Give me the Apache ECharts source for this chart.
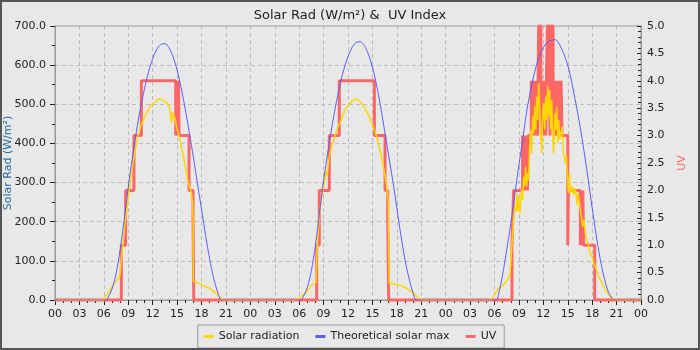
<!DOCTYPE html>
<html>
<head>
<meta charset="utf-8">
<script src="https://cdn.jsdelivr.net/npm/echarts@6/dist/echarts.min.js"></script>
<style>
  html, body { margin: 0; padding: 0; background: #e8e8e8; }
  #wrap { position: relative; width: 700px; height: 350px; }
  #chart { width: 700px; height: 350px; }
  #frame { position: absolute; left: 0; top: 0; width: 700px; height: 350px;
           box-sizing: border-box; border: 2px solid #555; pointer-events: none; }
</style>
</head>
<body>
<div id="wrap"><div id="chart"></div><div id="frame"></div></div>
<script>
// Hour-of-day tick labels along the time axis (every 3 hours)
const hourLabels = ['00', '03', '06', '09', '12', '15', '18', '21'];

// Solar radiation (W/m²) readings, [hour of day, value], one array per day
const solarDay1 = [[0,0],[5.9,0],[6.5,17],[7.3,43],[7.95,60],[8.14,62],[8.27,128],[8.55,187],[8.96,256],[9.38,320],[9.78,375],[10.19,418],[10.61,448],[11.22,477],[11.84,499],[12.2,505],[12.46,507],[12.7,514],[12.86,516],[13.05,512],[13.27,513],[13.5,508],[13.76,503],[14.09,490],[14.2,470],[14.3,452],[14.4,480],[14.55,462],[14.71,469],[14.9,445],[15.11,430],[15.53,392],[15.94,350],[16.34,303],[16.76,273],[16.9,250],[16.96,210],[17.0,47],[17.78,42],[18.4,35],[19.0,30],[19.6,20],[20.25,8],[20.6,0],[24,0]];
const solarDay2 = [[0,0],[5.69,0],[6.92,21],[7.53,38],[8.06,43],[8.22,136],[8.47,213],[8.76,264],[9.17,307],[9.3,330],[9.45,318],[9.58,350],[9.99,392],[10.4,418],[10.7,440],[11.02,452],[11.63,486],[12.25,503],[12.6,510],[12.86,513],[13.05,508],[13.27,511],[13.68,503],[14.3,482],[14.92,452],[15.53,418],[16.02,375],[16.43,332],[16.76,290],[16.96,247],[17.05,43],[18.4,38],[19.22,30],[20.04,17],[20.65,5],[21.07,0],[24,0]];
const solarDay3 = [[0,0],[5.6,0],[5.85,8],[6.46,30],[7.08,38],[7.69,55],[7.9,64],[8.1,68],[8.35,205],[8.47,239],[8.64,225],[8.76,273],[8.88,226],[8.97,264],[9.13,222],[9.3,281],[9.46,256],[9.58,315],[9.7,290],[9.83,341],[9.95,290],[10.07,324],[10.2,307],[10.32,392],[10.44,435],[10.57,375],[10.69,469],[10.81,426],[10.94,494],[11.06,435],[11.18,520],[11.31,460],[11.43,554],[11.55,494],[11.68,418],[11.8,375],[11.92,477],[12.04,503],[12.17,435],[12.29,520],[12.41,460],[12.54,546],[12.66,469],[12.78,537],[12.91,435],[13.03,511],[13.15,418],[13.28,375],[13.4,477],[13.52,435],[13.65,494],[13.77,401],[13.89,460],[14.01,409],[14.09,418],[14.3,443],[14.5,375],[14.71,350],[14.83,370],[14.95,315],[15.08,273],[15.2,324],[15.32,273],[15.53,290],[15.73,269],[15.94,285],[16.14,243],[16.27,273],[16.43,273],[16.55,230],[16.68,213],[16.84,187],[17.0,205],[17.17,170],[17.37,153],[17.58,136],[17.78,119],[17.99,111],[18.19,94],[18.4,85],[18.6,72],[18.81,60],[19.02,55],[19.22,43],[19.43,34],[19.63,26],[20.04,13],[20.45,4],[20.86,0],[24,0]];

// Theoretical clear-sky maximum (W/m²), [hour of day, value]
const maxDay1 = [[0,0],[6.3,0],[6.5,5],[7.0,28],[7.5,66],[8.0,128],[8.5,205],[9.0,288],[9.5,362],[10.0,430],[10.5,490],[11.0,540],[11.5,583],[12.0,617],[12.5,640],[13.0,653],[13.5,655],[14.0,645],[14.5,622],[15.0,588],[15.5,542],[16.0,488],[16.5,428],[17.0,365],[17.5,298],[18.0,232],[18.5,165],[19.0,105],[19.5,55],[20.0,20],[20.5,0],[24,0]];
const maxDay2 = [[0,0],[6.2,0],[6.5,8],[7.0,32],[7.5,75],[8.0,140],[8.5,222],[9.0,305],[9.5,375],[10.0,440],[10.5,498],[11.0,548],[11.5,590],[12.0,622],[12.5,645],[13.0,658],[13.5,660],[14.0,650],[14.5,628],[15.0,595],[15.5,550],[16.0,495],[16.5,432],[17.0,368],[17.5,305],[18.0,235],[18.5,165],[19.0,103],[19.5,55],[20.0,18],[20.4,0],[24,0]];
const maxDay3 = [[0,0],[6.2,0],[6.5,15],[7.0,65],[7.5,128],[8.0,195],[8.5,270],[9.0,345],[9.5,415],[10.0,487],[10.5,542],[11.0,588],[11.5,622],[12.0,645],[12.5,658],[13.0,664],[13.5,665],[14.0,652],[14.5,630],[15.0,600],[15.5,555],[16.0,502],[16.5,445],[17.0,380],[17.5,310],[18.0,235],[18.5,165],[19.0,103],[19.5,55],[20.0,20],[20.5,3],[20.8,0],[24,0]];

// UV index changes, [hour of day, new value]; each value holds until the next change
const uvDay1 = [[0,0],[8.15,1],[8.68,2],[9.7,3],[10.61,4],[14.83,3],[14.9,4],[14.97,3],[15.03,4],[15.1,3],[15.17,4],[15.24,3],[16.47,2],[16.96,1.5],[17.05,0]];
const uvDay2 = [[0,0],[8.15,1],[8.47,2],[9.7,3],[10.93,4],[15.24,3],[16.55,2],[16.88,1.5],[17.0,0]];
const uvDay3 = [[0,0],[8.15,1],[8.35,2],[9.45,3],[9.52,2],[9.6,3],[9.68,2],[9.78,3],[9.86,2],[9.95,3],[10.05,2],[10.15,3],[10.52,4],[10.6,3],[10.68,4],[10.75,3],[10.85,4],[10.92,3],[11.0,4],[11.1,3],[11.18,4],[11.3,3],[11.36,4],[11.42,5],[11.7,4],[11.78,3],[11.86,4],[11.95,3],[12.05,4],[12.15,3],[12.22,4],[12.3,3],[12.38,4],[12.5,5],[12.75,4],[12.82,3],[12.88,4],[12.95,5],[13.2,4],[13.28,3],[13.38,4],[13.5,3],[13.6,4],[13.7,3],[13.8,4],[13.9,3],[14.0,4],[14.1,3],[14.18,4],[14.3,3],[15.0,1],[15.08,2],[16.55,1],[16.65,2],[16.75,1],[16.85,2],[16.95,1],[18.31,0]];

// Join per-day readings onto one continuous 72-hour axis
function joinDays(days) {
  const out = [];
  days.forEach((day, d) => day.forEach(p => out.push([p[0] + d * 24, p[1]])));
  return out;
}
// Turn change points into a stepped line (vertical jumps at each change)
function stepLine(days) {
  const out = [];
  let prev = null;
  days.forEach((day, d) => day.forEach(p => {
    const x = p[0] + d * 24;
    if (prev !== null) out.push([x, prev]);
    out.push([x, p[1]]);
    prev = p[1];
  }));
  out.push([72, prev]);
  return out;
}

const solarData = joinDays([solarDay1, solarDay2, solarDay3]);
const maxData = joinDays([maxDay1, maxDay2, maxDay3]);
const uvData = stepLine([uvDay1, uvDay2, uvDay3]);

const font = 'DejaVu Sans';
const tickColor = '#222';
const gridLine = { show: true, lineStyle: { color: '#bdbdbd', type: [4, 3], width: 1 } };

const chart = echarts.init(document.getElementById('chart'), null, { renderer: 'canvas' });
chart.setOption({
  backgroundColor: '#e8e8e8',
  animation: false,
  textStyle: { fontFamily: font },
  title: {
    text: 'Solar Rad (W/m²) &  UV Index',
    left: 'center', top: 4,
    textStyle: { fontFamily: font, fontSize: 13, fontWeight: 'normal', color: '#222' }
  },
  legend: {
    data: ['Solar radiation', 'Theoretical solar max', 'UV'],
    bottom: 2, left: 'center',
    icon: 'rect', itemWidth: 10, itemHeight: 3, itemGap: 16,
    padding: [6, 8, 6, 6],
    borderColor: '#999', borderWidth: 1,
    textStyle: { fontFamily: font, fontSize: 11, color: '#222' }
  },
  grid: { left: 55, right: 59, top: 26, bottom: 50, containLabel: false, outerBoundsMode: 'none',
          show: true, borderColor: '#999', borderWidth: 1 },
  xAxis: {
    type: 'value', min: 0, max: 72, interval: 3,
    axisLine: { show: true, lineStyle: { color: '#999' } },
    axisTick: { show: true, length: 5, lineStyle: { color: tickColor } },
    minorTick: { show: true, splitNumber: 3, length: 3, lineStyle: { color: tickColor } },
    axisLabel: { color: '#222', fontSize: 11, fontFamily: font, margin: 9,
      formatter: v => hourLabels[Math.round(v % 24) / 3] },
    splitLine: gridLine
  },
  yAxis: [{
    type: 'value', min: 0, max: 700, interval: 100,
    name: 'Solar Rad (W/m²)', nameLocation: 'middle', nameGap: 41, nameMoveOverlap: false,
    nameTextStyle: { color: '#1f6e9c', fontSize: 11, fontFamily: font },
    axisLine: { show: true, lineStyle: { color: '#999' } },
    axisTick: { show: true, length: 5, lineStyle: { color: tickColor } },
    minorTick: { show: true, splitNumber: 2, length: 3, lineStyle: { color: tickColor } },
    axisLabel: { color: '#222', fontSize: 11, fontFamily: font, margin: 9, formatter: v => v.toFixed(1) },
    splitLine: gridLine
  }, {
    type: 'value', min: 0, max: 5, interval: 0.5, position: 'right',
    name: 'UV', nameLocation: 'middle', nameGap: 36, nameRotate: 90,
    nameTextStyle: { color: '#f66', fontSize: 11, fontFamily: font },
    axisLine: { show: true, lineStyle: { color: '#999' } },
    axisTick: { show: true, inside: true, length: 4, lineStyle: { color: tickColor } },
    minorTick: { show: true, splitNumber: 5, length: 3, lineStyle: { color: tickColor } },
    axisLabel: { color: '#222', fontSize: 11, fontFamily: font, margin: 6, formatter: v => v.toFixed(1) },
    splitLine: { show: false }
  }],
  series: [{
    name: 'UV', type: 'line', yAxisIndex: 1, data: uvData,
    showSymbol: false, clip: false, z: 1,
    itemStyle: { color: '#ff6666' },
    lineStyle: { color: '#ff6666', width: 3 }
  }, {
    name: 'Solar radiation', type: 'line', yAxisIndex: 0, data: solarData,
    showSymbol: false, z: 2,
    itemStyle: { color: '#ffd700' },
    lineStyle: { color: '#ffd700', width: 1.5 }
  }, {
    name: 'Theoretical solar max', type: 'line', yAxisIndex: 0, data: maxData,
    showSymbol: false, smooth: 0.3, z: 3,
    itemStyle: { color: '#5c5cff' },
    lineStyle: { color: '#5c5cff', width: 1 }
  }]
});
</script>
</body>
</html>
